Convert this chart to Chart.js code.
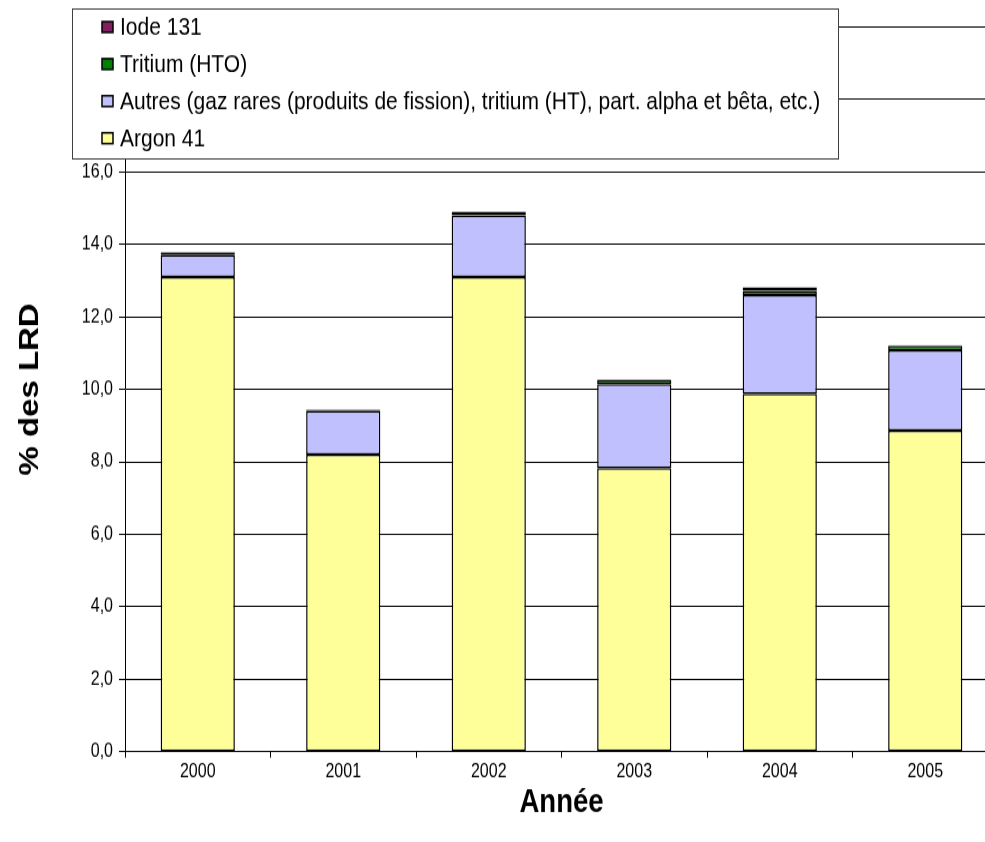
<!DOCTYPE html>
<html>
<head>
<meta charset="utf-8">
<script src="https://cdn.jsdelivr.net/npm/chart.js@4/dist/chart.umd.min.js"></script>
<style>
  html, body { margin: 0; padding: 0; background: #fff; }
  #page { width: 985px; height: 842px; overflow: hidden; position: relative; }
  /* chart is laid out at 702px high, then stretched to the full 842px page height */
  #wrap { position: absolute; left: 0; top: 0; width: 1000px; height: 702px;
          transform: scaleY(1.1994); transform-origin: 0 0; }
</style>
</head>
<body>
<div id="page"><div id="wrap"><canvas id="chart" width="1000" height="702"></canvas></div></div>
<script>
// Rejets gazeux en % des limites (LRD), par année
const annees = ["2000", "2001", "2002", "2003", "2004", "2005"];
const argon41 = [13.1, 8.2, 13.1, 7.83, 9.88, 8.86];
const autres = [0.6, 1.2, 1.7, 2.31, 2.72, 2.22];
const tritiumHTO = [0.08, 0.04, 0.1, 0.12, 0.12, 0.12];
const iode131 = [0.01, 0.01, 0.01, 0.02, 0.1, 0.02];

const FONT = "'Liberation Sans', Arial, sans-serif";

// legend drawn as a boxed panel over the top of the plot
const boxLegend = {
  id: "boxLegend",
  afterDraw(chart) {
    const ctx = chart.ctx;
    const x = 72.5, y = 7.5, w = 766, h = 125;
    ctx.save();
    ctx.fillStyle = "#fff";
    ctx.fillRect(x, y, w, h);
    ctx.strokeStyle = "#404040";
    ctx.lineWidth = 1;
    ctx.strokeRect(x, y, w, h);
    ctx.font = "21px " + FONT;
    ctx.textBaseline = "middle";
    const sets = chart.data.datasets.slice().reverse();
    sets.forEach((ds, i) => {
      const cy = 22.5 + i * 30.9;
      ctx.fillStyle = ds.backgroundColor;
      ctx.fillRect(102, cy - 4.5, 11, 9);
      ctx.strokeStyle = "#000";
      ctx.lineWidth = 1.5;
      ctx.strokeRect(102, cy - 4.5, 11, 9);
      ctx.fillStyle = "#000";
      ctx.fillText(ds.label, 120, cy + 1);
    });
    ctx.restore();
  }
};

const seg = (label, data, color) => ({
  label, data,
  backgroundColor: color,
  borderColor: "#000",
  borderWidth: 1.5,
  borderSkipped: false,
  barPercentage: 0.51,
  categoryPercentage: 1
});

new Chart(document.getElementById("chart"), {
  type: "bar",
  data: {
    labels: annees,
    datasets: [
      seg("Argon 41", argon41, "#FFFF99"),
      seg("Autres (gaz rares (produits de fission), tritium (HT), part. alpha et bêta, etc.)", autres, "#C0C0FF"),
      seg("Tritium (HTO)", tritiumHTO, "#008000"),
      seg("Iode 131", iode131, "#802060")
    ]
  },
  options: {
    responsive: false,
    animation: false,
    layout: { padding: { top: 22.5, right: 2, left: 0, bottom: 0 } },
    plugins: { legend: { display: false }, tooltip: { enabled: false } },
    scales: {
      x: {
        stacked: true,
        offset: true,
        afterFit(s) { s.height = 75.3; },
        border: { color: "#000", width: 1 },
        grid: { offset: true, drawOnChartArea: false, drawTicks: true, tickLength: 5, color: "#000" },
        ticks: { color: "#000", padding: 2, font: { family: FONT, size: 16 } },
        title: {
          display: true, text: "Année", color: "#000",
          font: { family: FONT, size: 27.5, weight: "bold" },
          padding: { top: 0, bottom: 16.3 }
        }
      },
      y: {
        stacked: true,
        min: 0, max: 20,
        afterFit(s) { s.width = 125; },
        border: { color: "#000", width: 1 },
        grid: { color: "#000", lineWidth: 1, drawTicks: true, tickLength: 6 },
        ticks: {
          stepSize: 2, color: "#000", padding: 6,
          font: { family: FONT, size: 16 },
          callback: v => v.toFixed(1).replace(".", ",")
        },
        title: {
          display: true, text: "% des LRD", color: "#000",
          font: { family: FONT, size: 27.5, weight: "bold" },
          padding: { top: 13.5, bottom: 0 }
        }
      }
    }
  },
  plugins: [boxLegend]
});
</script>
</body>
</html>
